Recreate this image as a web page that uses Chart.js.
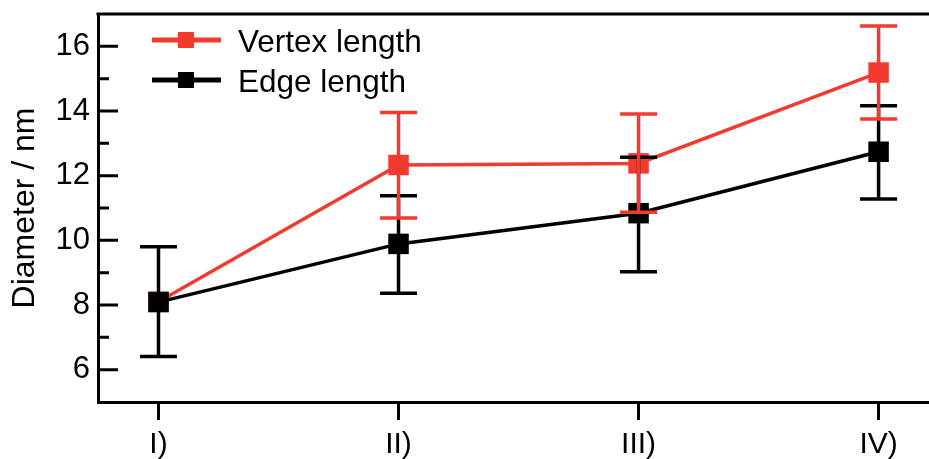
<!DOCTYPE html>
<html>
<head>
<meta charset="utf-8">
<script src="https://cdn.jsdelivr.net/npm/chart.js@4.4.1/dist/chart.umd.min.js"></script>
<style>
  html, body { margin: 0; padding: 0; background: #fff; }
  #wrap { width: 929px; height: 459px; }
</style>
</head>
<body>
<div id="wrap"><canvas id="grafico" width="929" height="459"></canvas></div>
<script>
const categorias = ["I)", "II)", "III)", "IV)"];

const vertexMedia = [8.1, 12.33, 12.38, 15.19];
const vertexBajo = [null, 10.69, 10.87, 13.75];
const vertexAlto = [null, 13.95, 13.91, 16.63];

const edgeMedia = [8.09, 9.89, 10.84, 12.74];
const edgeBajo = [6.41, 8.36, 9.03, 11.28];
const edgeAlto = [9.8, 11.38, 12.57, 14.16];

const ticksY = [6, 8, 10, 12, 14, 16];
const ticksYmenores = [7, 9, 11, 13, 15];

const ROJO = "#f23a2f";
const NEGRO = "#000000";
const FUENTE = "'Liberation Sans', Arial, sans-serif";

const puntos = (arr) => arr.map((v, i) => ({ x: i, y: v }));

// barras de error, marcas internas del eje y, borde superior y leyenda
const extras = {
  id: "extras",
  afterDatasetsDraw(chart) {
    const { ctx, scales: { x, y } } = chart;
    const barras = (bajo, alto, color) => {
      ctx.save();
      ctx.strokeStyle = color;
      ctx.lineWidth = 3.5;
      bajo.forEach((lo, i) => {
        if (lo == null) return;
        const px = x.getPixelForValue(i);
        const y1 = y.getPixelForValue(lo);
        const y2 = y.getPixelForValue(alto[i]);
        ctx.beginPath();
        ctx.moveTo(px, y1); ctx.lineTo(px, y2);
        ctx.moveTo(px - 18.5, y1); ctx.lineTo(px + 18.5, y1);
        ctx.moveTo(px - 18.5, y2); ctx.lineTo(px + 18.5, y2);
        ctx.stroke();
      });
      ctx.restore();
    };
    barras(edgeBajo, edgeAlto, NEGRO);
    barras(vertexBajo, vertexAlto, ROJO);
  },
  afterDraw(chart) {
    const { ctx, chartArea: area, scales: { y } } = chart;
    ctx.save();
    ctx.strokeStyle = NEGRO;
    ctx.lineWidth = 3;
    ctx.beginPath();
    ticksY.forEach(v => {
      const py = y.getPixelForValue(v);
      ctx.moveTo(area.left, py); ctx.lineTo(area.left + 20, py);
    });
    ticksYmenores.forEach(v => {
      const py = y.getPixelForValue(v);
      ctx.moveTo(area.left, py); ctx.lineTo(area.left + 11, py);
    });
    ctx.moveTo(area.left - 1.5, area.top);
    ctx.lineTo(chart.width, area.top);
    ctx.stroke();

    // leyenda
    const items = [
      { texto: "Vertex length", color: ROJO, y: area.top + 26 },
      { texto: "Edge length", color: NEGRO, y: area.top + 66 }
    ];
    items.forEach(it => {
      ctx.strokeStyle = it.color;
      ctx.fillStyle = it.color;
      ctx.lineWidth = 5;
      ctx.beginPath();
      ctx.moveTo(area.left + 54, it.y);
      ctx.lineTo(area.left + 123, it.y);
      ctx.stroke();
      ctx.fillRect(area.left + 80, it.y - 8, 16, 16);
      ctx.fillStyle = NEGRO;
      ctx.font = "31.5px " + FUENTE;
      ctx.textBaseline = "middle";
      ctx.textAlign = "left";
      ctx.fillText(it.texto, area.left + 140, it.y + 3);
    });
    ctx.restore();
  }
};

new Chart(document.getElementById("grafico"), {
  type: "line",
  data: {
    datasets: [
      {
        label: "Vertex length",
        data: puntos(vertexMedia),
        borderColor: ROJO,
        backgroundColor: ROJO,
        borderWidth: 3.5,
        pointStyle: "rect",
        pointRadius: 14.5,
        pointBorderWidth: 0,
        order: 2
      },
      {
        label: "Edge length",
        data: puntos(edgeMedia),
        borderColor: NEGRO,
        backgroundColor: NEGRO,
        borderWidth: 3.5,
        pointStyle: "rect",
        pointRadius: 14.5,
        pointBorderWidth: 0,
        order: 1
      }
    ]
  },
  options: {
    responsive: false,
    devicePixelRatio: 1,
    animation: false,
    layout: { autoPadding: false, padding: { top: 14, right: 0, bottom: 0, left: 0 } },
    plugins: {
      legend: { display: false },
      tooltip: { enabled: false }
    },
    scales: {
      x: {
        type: "linear",
        min: -0.252,
        max: 3.21,
        afterBuildTicks: (s) => { s.ticks = categorias.map((_, i) => ({ value: i })); },
        afterFit: (s) => { s.height = 57; s.paddingLeft = 0; s.paddingRight = 0; },
        ticks: {
          callback: (v) => categorias[v],
          color: NEGRO,
          padding: 7,
          maxRotation: 0,
          font: { family: FUENTE, size: 30 }
        },
        grid: {
          drawOnChartArea: false,
          drawTicks: true,
          tickLength: 18,
          tickWidth: 3,
          tickColor: NEGRO
        },
        border: { display: true, color: NEGRO, width: 3 }
      },
      y: {
        min: 5,
        max: 17,
        afterBuildTicks: (s) => { s.ticks = ticksY.map(v => ({ value: v })); },
        afterFit: (s) => { s.width = 98; s.paddingTop = 0; s.paddingBottom = 0; },
        ticks: {
          color: NEGRO,
          padding: 8,
          font: { family: FUENTE, size: 31 }
        },
        grid: { display: false, drawTicks: false },
        border: { display: true, color: NEGRO, width: 3 },
        title: {
          display: true,
          text: "Diameter / nm",
          color: NEGRO,
          padding: { top: 6, bottom: 0 },
          font: { family: FUENTE, size: 32 }
        }
      }
    }
  },
  plugins: [extras]
});
</script>
</body>
</html>
